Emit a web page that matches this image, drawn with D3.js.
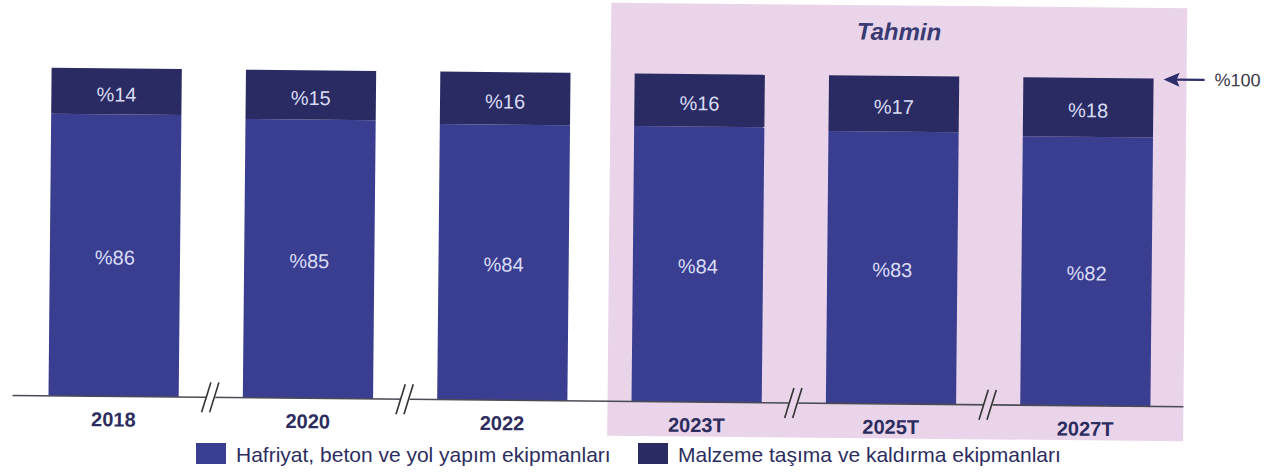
<!DOCTYPE html>
<html>
<head>
<meta charset="utf-8">
<script src="https://cdn.jsdelivr.net/npm/d3@7"></script>
<style>
  body { margin: 0; background: #fff; }
  svg { display: block; font-family: "Liberation Sans", Arial, sans-serif; }
</style>
</head>
<body>
<div id="chart"></div>
<script>
// Stacked 100% bars, equipment share by year (T = forecast)
const years = ["2018", "2020", "2022", "2023T", "2025T", "2027T"];
const hafriyat = [86, 85, 84, 84, 83, 82];   // bottom segment
const malzeme = [14, 15, 16, 16, 17, 18];    // top segment
const seriesNames = ["Hafriyat, beton ve yol yapım ekipmanları", "Malzeme taşıma ve kaldırma ekipmanları"];
const forecastYears = ["2023T", "2025T", "2027T"];
const breaksAfter = ["2018", "2020", "2023T", "2025T"];
const forecastLabel = "Tahmin";
const totalLabel = "%100";

const W = 1278, H = 476;
const colBottom = "#3a3e90";
const colTop = "#2a2b62";
const colPink = "#e9d4ea";
const colText = "#2c2d5e";

const svg = d3.select("#chart").append("svg")
  .attr("width", W).attr("height", H);

// the scan is slightly tilted
const g = svg.append("g").attr("transform", "rotate(0.55, 640, 240)");

const x = d3.scaleBand().domain(years).range([50, 1152])
  .paddingInner(0.33).paddingOuter(0);
const y = d3.scaleLinear().domain([0, 100]).range([401.5, 73.5]);

// forecast background
const fx0 = x(forecastYears[0]) - 24;
const fx1 = x(forecastYears[forecastYears.length - 1]) + x.bandwidth() + 33;
g.append("rect")
  .attr("x", fx0).attr("y", 3)
  .attr("width", fx1 - fx0).attr("height", 433)
  .attr("fill", colPink);

g.append("text")
  .attr("x", (fx0 + fx1) / 2).attr("y", 29)
  .attr("text-anchor", "middle").attr("dominant-baseline", "central")
  .attr("font-size", 24).attr("font-weight", "bold").attr("font-style", "italic")
  .attr("fill", "#3a3a72")
  .text(forecastLabel);

const data = years.map((yr, i) => ({ year: yr, bottom: hafriyat[i], top: malzeme[i] }));

// bottom segments
g.selectAll("rect.bottom").data(data).enter().append("rect")
  .attr("class", "bottom")
  .attr("x", d => x(d.year)).attr("width", x.bandwidth())
  .attr("y", d => y(d.bottom)).attr("height", d => y(0) - y(d.bottom))
  .attr("fill", colBottom);

// top segments
g.selectAll("rect.top").data(data).enter().append("rect")
  .attr("class", "top")
  .attr("x", d => x(d.year)).attr("width", x.bandwidth())
  .attr("y", d => y(d.bottom + d.top)).attr("height", d => y(d.bottom) - y(d.bottom + d.top))
  .attr("fill", colTop);

// segment labels
g.selectAll("text.lb").data(data).enter().append("text")
  .attr("x", d => x(d.year) + x.bandwidth() / 2)
  .attr("y", d => (y(0) + y(d.bottom)) / 2 + 2)
  .attr("text-anchor", "middle").attr("dominant-baseline", "central")
  .attr("font-size", 20).attr("fill", "#d9dcf4")
  .text(d => "%" + d.bottom);

g.selectAll("text.lt").data(data).enter().append("text")
  .attr("x", d => x(d.year) + x.bandwidth() / 2)
  .attr("y", d => (y(d.bottom) + y(d.bottom + d.top)) / 2 + 3)
  .attr("text-anchor", "middle").attr("dominant-baseline", "central")
  .attr("font-size", 20).attr("fill", "#d9dcf4")
  .text(d => "%" + d.top);

// baseline
g.append("line")
  .attr("x1", 14).attr("x2", fx1)
  .attr("y1", y(0)).attr("y2", y(0))
  .attr("stroke", "#4a4a55").attr("stroke-width", 1.6);

// axis breaks
breaksAfter.forEach(yr => {
  const cx = x(yr) + x.bandwidth() + x.step() * x.paddingInner() / 2;
  const cy = y(0);
  const bg = forecastYears.includes(yr) ? colPink : "#fff";
  g.append("path")
    .attr("d", `M${cx - 8},${cy + 14} L${cx - 1},${cy - 14} L${cx + 8},${cy - 14} L${cx + 1},${cy + 14} Z`)
    .attr("fill", bg);
  [-4, 4].forEach(dx => {
    g.append("line")
      .attr("x1", cx + dx - 5).attr("y1", cy + 15)
      .attr("x2", cx + dx + 4).attr("y2", cy - 15)
      .attr("stroke", "#333").attr("stroke-width", 1.6);
  });
});

// year labels
g.selectAll("text.yr").data(years).enter().append("text")
  .attr("x", d => x(d) + x.bandwidth() / 2)
  .attr("y", y(0) + 23)
  .attr("text-anchor", "middle").attr("dominant-baseline", "central")
  .attr("font-size", 20).attr("font-weight", "bold").attr("fill", colText)
  .text(d => d);

// %100 marker
const ay = y(100) + 1;
g.append("line")
  .attr("x1", fx1 - 12).attr("x2", fx1 + 18)
  .attr("y1", ay).attr("y2", ay)
  .attr("stroke", "#2c2d6a").attr("stroke-width", 2.2);
g.append("path")
  .attr("d", `M${fx1 - 23},${ay} L${fx1 - 7},${ay - 7} L${fx1 - 10},${ay} L${fx1 - 7},${ay + 7} Z`)
  .attr("fill", "#2c2d6a");
g.append("text")
  .attr("x", fx1 + 28).attr("y", ay)
  .attr("dominant-baseline", "central")
  .attr("font-size", 18).attr("fill", "#3a3a4a")
  .text(totalLabel);

// legend
const legend = svg.append("g").attr("transform", "translate(0,454)");
const legendX = [196, 638];
[colBottom, colTop].forEach((c, i) => {
  legend.append("rect")
    .attr("x", legendX[i]).attr("y", -11)
    .attr("width", 30).attr("height", 21)
    .attr("fill", c);
  legend.append("text")
    .attr("x", legendX[i] + 40).attr("y", 0)
    .attr("dominant-baseline", "central")
    .attr("font-size", 21).attr("fill", colText)
    .text(seriesNames[i]);
});
</script>
</body>
</html>
